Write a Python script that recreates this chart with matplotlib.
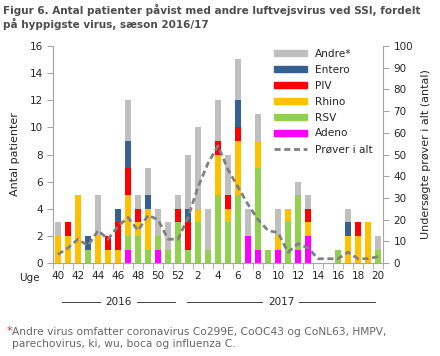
import numpy as np
import matplotlib
matplotlib.use("Agg")
import matplotlib.pyplot as plt
from matplotlib.patches import Patch
from matplotlib.lines import Line2D

weeks = list(range(40, 53)) + list(range(1, 21))

adeno  = [0, 0, 0, 0, 0, 0, 0, 1, 0, 0, 1, 0, 0, 0, 0, 0, 0, 0, 0, 2, 1, 0, 1, 0, 1, 2, 0, 0, 0, 0, 0, 0, 0]
rsv    = [0, 0, 0, 1, 0, 0, 0, 1, 2, 1, 1, 1, 3, 1, 3, 1, 5, 3, 5, 0, 6, 1, 0, 3, 4, 0, 0, 0, 1, 0, 0, 0, 1]
rhino  = [2, 2, 5, 0, 2, 1, 1, 3, 1, 3, 0, 0, 0, 0, 1, 0, 3, 1, 4, 0, 2, 0, 1, 1, 0, 1, 0, 0, 0, 2, 2, 3, 0]
piv    = [0, 1, 0, 0, 0, 1, 2, 2, 1, 0, 0, 0, 1, 2, 0, 0, 1, 1, 1, 0, 0, 0, 0, 0, 0, 1, 0, 0, 0, 0, 1, 0, 0]
entero = [0, 0, 0, 1, 0, 0, 1, 2, 0, 1, 0, 0, 0, 1, 0, 0, 0, 0, 2, 0, 0, 0, 0, 0, 0, 0, 0, 0, 0, 1, 0, 0, 0]
andre  = [1, 0, 0, 0, 3, 0, 0, 3, 1, 2, 2, 2, 1, 4, 6, 3, 3, 3, 3, 2, 2, 0, 2, 0, 1, 1, 0, 0, 0, 1, 0, 0, 1]
prover = [4, 7, 11, 8, 15, 11, 17, 21, 15, 22, 20, 11, 11, 21, 35, 46, 54, 43, 35, 27, 20, 15, 14, 5, 9, 7, 2, 2, 2, 5, 2, 2, 3]

series = [("Adeno", adeno, "#ff00ff"),
          ("RSV", rsv, "#92d050"),
          ("Rhino", rhino, "#ffc000"),
          ("PIV", piv, "#ff0000"),
          ("Entero", entero, "#366092"),
          ("Andre*", andre, "#bfbfbf")]

txt = "#262626"
axcol = "#a6a6a6"
plt.rcParams['font.family'] = ['DejaVu Sans']

fig = plt.figure(figsize=(4.4, 3.56), dpi=100)
ax = fig.add_axes([0.1205, 0.261, 0.75, 0.61])
ax2 = ax.twinx()

x = np.arange(len(weeks))
bottom = np.zeros(len(weeks))
for name, vals, col in series:
    ax.bar(x, vals, 0.65, bottom=bottom, color=col, linewidth=0)
    bottom += np.array(vals)

ax2.plot(x, prover, color="#808080", lw=2, ls=(0, (2.2, 1.3)))

ax.set_xlim(-0.5, len(weeks) - 0.5)
ax.set_ylim(0, 16)
ax2.set_ylim(0, 100)
ax.set_yticks(range(0, 17, 2))
ax2.set_yticks(range(0, 101, 10))

ax.set_xticks(x[::2])
ax.set_xticklabels([str(w) for w in weeks[::2]])
ax.set_xticks(np.arange(-0.5, len(weeks), 1), minor=True)
ax.tick_params(axis='x', which='major', length=0, pad=6, labelsize=7.5, labelcolor=txt)
ax.tick_params(axis='x', which='minor', length=4, color=axcol, direction='out')
ax.tick_params(axis='y', length=4, color=axcol, labelsize=7.5, labelcolor=txt)
ax2.tick_params(axis='y', length=4, color=axcol, labelsize=7.5, labelcolor=txt)

for a in (ax, ax2):
    a.spines['top'].set_visible(False)
    for s in ('left', 'right', 'bottom'):
        a.spines[s].set_color(axcol)
ax.spines['right'].set_visible(False)

ax.set_ylabel("Antal patienter", fontsize=8, color=txt, labelpad=7)
ax2.set_ylabel("Undersøgte prøver i alt (antal)", fontsize=8, color=txt, labelpad=6)

fig.text(29 / 440, 1 - 278 / 356, "Uge", fontsize=7.5, color=txt, ha='center', va='center')

# year markers under the axis
tr = ax.get_xaxis_transform()
yy = -0.18
for x0, x1 in [(0.4, 4.2), (7.9, 11.7), (12.9, 20.4), (24.1, 31.7)]:
    ax.plot([x0, x1], [yy, yy], color="#404040", lw=0.7, transform=tr, clip_on=False)
ax.text(6.0, yy, "2016", transform=tr, ha='center', va='center', fontsize=7.5, color=txt)
ax.text(22.3, yy, "2017", transform=tr, ha='center', va='center', fontsize=7.5, color=txt)

handles = [Patch(color=c, label=n) for n, v, c in reversed(series)]
handles.append(Line2D([], [], color="#808080", lw=2, ls=(0, (2.2, 1.3)), label="Prøver i alt"))
ax2.legend(handles=handles, loc='upper left', bbox_to_anchor=(0.64, 1.03), frameon=False,
           fontsize=7.6, handlelength=3.2, handleheight=0.45, labelspacing=0.56,
           handletextpad=0.7, labelcolor=txt)

fig.text(0.007, 0.988, "Figur 6. Antal patienter påvist med andre luftvejsvirus ved SSI, fordelt\npå hyppigste virus, sæson 2016/17",
         fontsize=7.5, fontweight='bold', color="#4d4d4d", ha='left', va='top', linespacing=1.15)

fig.text(0.014, 1 - 326 / 356, "*", color="#e03030", fontsize=8, ha='left', va='top')
fig.text(0.028, 1 - 327 / 356, "Andre virus omfatter coronavirus Co299E, CoOC43 og CoNL63, HMPV,\nparechovirus, ki, wu, boca og influenza C.",
         color="#666666", fontsize=7.7, ha='left', va='top', linespacing=1.25)

fig.savefig("out.png", dpi=100)
